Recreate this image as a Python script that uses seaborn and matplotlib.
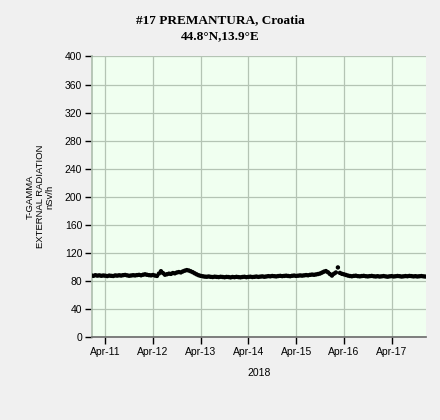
import pandas as pd
import numpy as np
import matplotlib
matplotlib.use("Agg")
import matplotlib.pyplot as plt
import matplotlib.dates as mdates
import seaborn as sns

# hourly T-GAMMA readings (nSv/h), starting 2018-04-10 17:00
start_time = "2018-04-10 17:00"
dose_rate = [
    87.8, 87.2, 88.1, 87.5, 87.9, 87.3, 87.7,
    87.4, 86.9, 87.6, 87.2, 87.0, 87.8, 87.5, 88.0,
    87.6, 88.2, 88.5, 87.9, 87.3, 87.7, 88.1, 87.8,
    88.3, 88.6, 88.0, 88.8, 89.4, 88.7, 88.2, 87.9,
    88.4, 87.6, 87.1, 90.5, 93.8, 91.2,
    88.8, 89.5, 90.3, 90.0, 91.2, 90.8, 92.0, 92.6, 92.1, 93.5, 94.6, 95.4,
    94.8, 93.7, 92.4, 90.8, 89.3, 88.0, 87.2,
    86.6, 86.1, 85.9, 86.3, 85.8, 85.5, 86.0, 85.7, 85.4, 85.9, 85.6, 85.2,
    85.7, 85.5, 85.0, 85.6, 85.3, 85.8, 85.4, 85.1, 85.6, 85.9, 85.3, 85.7,
    86.0, 85.5, 85.8, 86.2, 85.7, 86.1, 86.4, 85.9, 86.3,
    86.8, 86.5, 87.0, 86.7, 86.4, 86.9, 87.2, 86.8, 87.1, 87.4, 87.0, 86.7,
    87.3, 87.6, 87.1, 87.4, 87.8, 87.5, 87.9, 88.3, 88.0, 88.6, 89.0,
    88.7, 89.2, 89.8, 90.5, 91.8, 93.2,
    94.0,
    92.3, 89.8, 87.6,
    90.2, 92.0,
    99.2,
    91.4, 90.1, 89.4, 88.5, 87.6,
    87.0, 86.6, 87.1, 87.4, 86.8, 86.5, 86.9, 87.2, 86.7, 86.4,
    86.8, 87.1, 86.6, 86.3, 86.7, 86.2, 86.5, 86.9, 86.4, 86.0,
    86.5, 86.8, 86.3, 86.6, 87.0, 86.7, 86.2, 86.5, 86.9, 86.6,
    87.1, 86.8, 86.4, 86.7, 86.3, 86.6, 86.9, 86.5, 86.2,
]
y_ticks = [0, 40, 80, 120, 160, 200, 240, 280, 320, 360, 400]

df = pd.DataFrame({
    "time": pd.date_range(start_time, periods=len(dose_rate), freq="h"),
    "value": dose_rate,
})

sns.set_theme(style="ticks")
plt.rcParams["font.family"] = ["Liberation Sans", "DejaVu Sans"]
plt.rcParams["text.color"] = "black"
plt.rcParams["axes.labelcolor"] = "black"

fig = plt.figure(figsize=(4.4, 4.2), dpi=100, facecolor="#f0f0f0")
ax = fig.add_axes([0.209, 0.1976, 0.760, 0.668])
ax.set_facecolor("#f0fff0")

sns.scatterplot(data=df, x="time", y="value", ax=ax, color="black",
                s=10, edgecolor="none", zorder=3, legend=False)

ax.set_ylim(0, 400)
ax.set_yticks(y_ticks)
ax.set_xlim(pd.Timestamp("2018-04-10 17:18"), pd.Timestamp("2018-04-17 17:30"))
ax.xaxis.set_major_locator(mdates.DayLocator())
ax.xaxis.set_major_formatter(mdates.DateFormatter("%b-%d"))

ax.grid(True, color="#b4c4b4", linewidth=0.9)
ax.set_axisbelow(True)
for side in ["top", "right"]:
    ax.spines[side].set_visible(False)
ax.spines["left"].set_color("#b0c0b0")
ax.spines["bottom"].set_color("#707070")
ax.tick_params(axis="both", length=5, width=1, color="black",
               labelsize=7.5, labelcolor="black", pad=2)

ax.set_xlabel("2018", fontsize=7.5, labelpad=8)
ax.set_ylabel("")

fig.text(0.5, 0.952, "#17 PREMANTURA, Croatia", ha="center", va="center",
         fontsize=9.5, fontweight="bold", family=["Liberation Serif", "DejaVu Serif"])
fig.text(0.5, 0.914, "44.8°N,13.9°E", ha="center", va="center",
         fontsize=9.5, fontweight="bold", family=["Liberation Serif", "DejaVu Serif"])
fig.text(0.091, 0.5315, "T-GAMMA\nEXTERNAL RADIATION\nnSv/h", ha="center", va="center",
         rotation=90, fontsize=6.8, linespacing=1.12,
         family=["Liberation Sans Narrow", "Liberation Sans"])

fig.savefig("out.png", dpi=100, facecolor=fig.get_facecolor())
